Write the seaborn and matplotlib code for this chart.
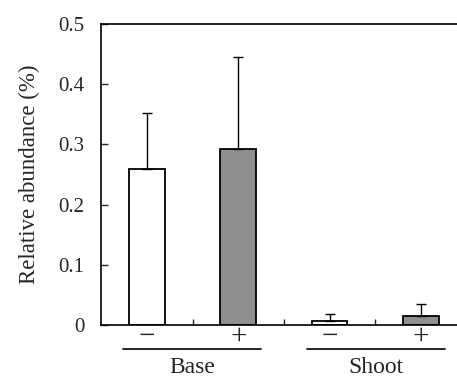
import numpy as np
import pandas as pd
import matplotlib
matplotlib.use("Agg")
import matplotlib.pyplot as plt
import matplotlib.transforms as mtransforms
import seaborn as sns

# data
groups = ["Base", "Base", "Shoot", "Shoot"]
signs = ["\u2212", "+", "\u2212", "+"]
means = [0.259, 0.292, 0.007, 0.015]
errs = [0.093, 0.153, 0.011, 0.020]
yticks = [0, 0.1, 0.2, 0.3, 0.4, 0.5]
ytick_labels = ["0", "0.1", "0.2", "0.3", "0.4", "0.5"]

df = pd.DataFrame({"cond": [g + s for g, s in zip(groups, signs)],
                   "sign": signs, "value": means})

sns.set_style("ticks")
plt.rcParams["font.family"] = ["Liberation Serif", "DejaVu Serif"]

fig = plt.figure(figsize=(4.57, 3.76), dpi=100)
ax = fig.add_axes([0.2215, 0.1356, 0.7998, 0.8005])

sns.barplot(data=df, x="cond", y="value", hue="sign", dodge=False,
            palette={"\u2212": "white", "+": "#8e8f91"}, width=0.39,
            edgecolor="black", linewidth=1.3, legend=False, ax=ax)

xs = np.arange(len(means))
ax.errorbar(xs, means, yerr=[np.zeros(len(errs)), errs], fmt="none",
            ecolor="black", elinewidth=1.0, capsize=3.5, capthick=1.0)

ax.set_xlim(-0.5, 3.5)
ax.set_ylim(0, 0.5)
ax.set_yticks(yticks)
ax.set_yticklabels(ytick_labels, fontsize=15)
ax.set_xticks(xs)
ax.set_xticklabels(signs, fontsize=21)
ax.set_xticks([0.5, 1.5, 2.5], minor=True)
ax.tick_params(axis="x", which="major", length=0, pad=-1)
ax.tick_params(axis="x", which="minor", direction="in", length=4, width=1)
ax.tick_params(axis="y", direction="in", length=5, width=1, pad=12)
ax.set_xlabel("")
ax.set_ylabel("Relative abundance (%)", fontsize=16.5, labelpad=13)

for side in ["left", "bottom", "top"]:
    ax.spines[side].set_visible(True)
    ax.spines[side].set_linewidth(1.2)
    ax.spines[side].set_color("black")
ax.spines["right"].set_visible(False)

trans = mtransforms.blended_transform_factory(ax.transData, ax.transAxes)
for name, (x0, x1) in zip(["Base", "Shoot"], [(-0.26, 1.25), (1.75, 3.26)]):
    ax.plot([x0, x1], [-0.08, -0.08], color="black", lw=1.2,
            transform=trans, clip_on=False)
    ax.text((x0 + x1) / 2, -0.14, name, transform=trans, ha="center",
            va="center", fontsize=17)

fig.savefig("out.png", dpi=100)
